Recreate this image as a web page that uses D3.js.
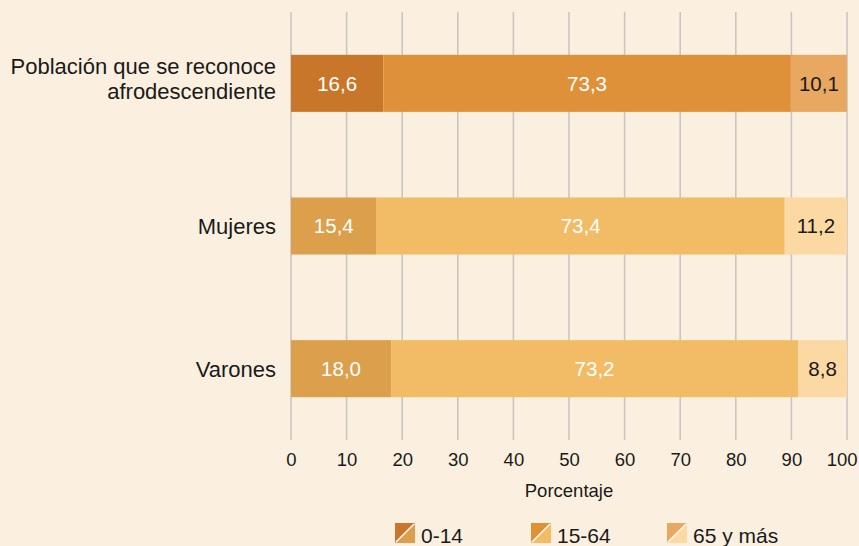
<!DOCTYPE html>
<html>
<head>
<meta charset="utf-8">
<script src="https://cdn.jsdelivr.net/npm/d3@7"></script>
<style>
  body { margin: 0; background: #fbf0e0; }
  svg { display: block; font-family: "Liberation Sans", Arial, sans-serif; }
</style>
</head>
<body>
<div id="wrapper"></div>
<script>
const categories = [["Población que se reconoce", "afrodescendiente"], ["Mujeres"], ["Varones"]]
const ageGroups = ["0-14", "15-64", "65 y más"]
const values014 = [16.6, 15.4, 18.0]
const values1564 = [73.3, 73.4, 73.2]
const values65 = [10.1, 11.2, 8.8]
const xTicks = [0, 10, 20, 30, 40, 50, 60, 70, 80, 90, 100]

// first row uses the darker palette, the other two the lighter one
const darkColors = ["#c8772a", "#df913a", "#e9a862"]
const lightColors = ["#dca04c", "#f2bc66", "#fcd9a3"]

function drawChart() {
  const dimensions = {
    width: 859,
    height: 546,
    margin: { top: 12, right: 12, bottom: 106, left: 291 },
  }
  dimensions.boundedWidth = 847 - dimensions.margin.left
  dimensions.boundedHeight = dimensions.height - dimensions.margin.top - dimensions.margin.bottom

  const rows = categories.map((c, i) => ({
    key: i,
    label: c,
    parts: [values014[i], values1564[i], values65[i]],
  }))

  const wrapper = d3.select("#wrapper")
    .append("svg")
      .attr("width", dimensions.width)
      .attr("height", dimensions.height)

  const bounds = wrapper.append("g")
      .attr("transform", `translate(${dimensions.margin.left},${dimensions.margin.top})`)

  const xScale = d3.scaleLinear()
    .domain([0, 100])
    .range([0, dimensions.boundedWidth])

  const yScale = d3.scaleBand()
    .domain(rows.map(d => d.key))
    .range([0, dimensions.boundedHeight])
    .paddingInner(0.6)
    .paddingOuter(0.3)

  // gridlines
  bounds.append("g")
    .selectAll("line")
    .data(xTicks)
    .join("line")
      .attr("x1", d => xScale(d))
      .attr("x2", d => xScale(d))
      .attr("y1", 0)
      .attr("y2", dimensions.boundedHeight)
      .attr("stroke", "#c9c6c2")
      .attr("stroke-width", 1.6)

  // stacked bars
  const rowGroups = bounds.selectAll(".row")
    .data(rows)
    .join("g")
      .attr("class", "row")

  rowGroups.each(function(row, ri) {
    const g = d3.select(this)
    const palette = ri === 0 ? darkColors : lightColors
    let acc = 0
    const segs = row.parts.map((v, j) => {
      const s = { start: acc, end: acc + v, value: v, j }
      acc += v
      return s
    })
    g.selectAll("rect")
      .data(segs)
      .join("rect")
        .attr("x", d => xScale(d.start))
        .attr("width", d => xScale(d.end) - xScale(d.start))
        .attr("y", yScale(row.key))
        .attr("height", yScale.bandwidth())
        .attr("fill", d => palette[d.j])
    g.selectAll("text")
      .data(segs)
      .join("text")
        .attr("x", d => xScale((d.start + d.end) / 2))
        .attr("y", yScale(row.key) + yScale.bandwidth() / 2)
        .attr("dy", "0.36em")
        .attr("text-anchor", "middle")
        .attr("fill", d => d.j === 2 ? "#1a1a1a" : "#ffffff")
        .style("font-size", "20.5px")
        .text(d => d3.format(".1f")(d.value).replace(".", ","))
  })

  // category labels
  bounds.append("g")
    .selectAll("text")
    .data(rows)
    .join("text")
      .attr("x", -15)
      .attr("y", d => yScale(d.key) + yScale.bandwidth() / 2)
      .attr("text-anchor", "end")
      .attr("fill", "#1a1a1a")
      .style("font-size", "22px")
      .each(function(d) {
        const n = d.label.length
        d3.select(this).selectAll("tspan")
          .data(d.label)
          .join("tspan")
            .attr("x", -15)
            .attr("dy", (t, i) => i === 0 ? (n > 1 ? "-0.42em" : "0.36em") : "1.14em")
            .text(t => t)
      })

  // x axis
  const xAxisGenerator = d3.axisBottom(xScale)
    .tickValues(xTicks)
    .tickSize(0)
    .tickPadding(13)

  const xAxis = bounds.append("g")
      .attr("transform", `translate(0,${dimensions.boundedHeight})`)
      .call(xAxisGenerator)
  xAxis.select(".domain").remove()
  xAxis.selectAll("text")
      .attr("fill", "#1a1a1a")
      .style("font-size", "18.5px")
      .style("font-family", "Liberation Sans, Arial, sans-serif")
  // last label is pulled in so it stays inside the picture
  xAxis.selectAll(".tick")
    .filter(d => d === 100)
    .select("text")
      .attr("text-anchor", "end")
      .attr("x", 10)

  xAxis.append("text")
      .attr("x", xScale(50))
      .attr("y", 57)
      .attr("fill", "#1a1a1a")
      .attr("text-anchor", "middle")
      .style("font-size", "18.5px")
      .style("font-family", "Liberation Sans, Arial, sans-serif")
      .text("Porcentaje")

  // legend
  const legendX = [395, 531, 667]
  const legend = wrapper.append("g")
      .attr("transform", "translate(0,523)")
  const items = legend.selectAll("g")
    .data(ageGroups)
    .join("g")
      .attr("transform", (d, i) => `translate(${legendX[i]},0)`)
  const s = 20
  items.append("path")
      .attr("d", `M0,0 H${s} L0,${s} Z`)
      .attr("fill", (d, i) => darkColors[i])
  items.append("path")
      .attr("d", `M${s},0 V${s} H0 Z`)
      .attr("fill", (d, i) => lightColors[i])
  items.append("line")
      .attr("x1", 1).attr("y1", s - 1)
      .attr("x2", s - 1).attr("y2", 1)
      .attr("stroke", "#ffffff")
      .attr("stroke-width", 1.5)
  items.append("text")
      .attr("x", s + 6)
      .attr("y", s)
      .attr("fill", "#1a1a1a")
      .style("font-size", "21px")
      .text(d => d)
}

drawChart()
</script>
</body>
</html>
